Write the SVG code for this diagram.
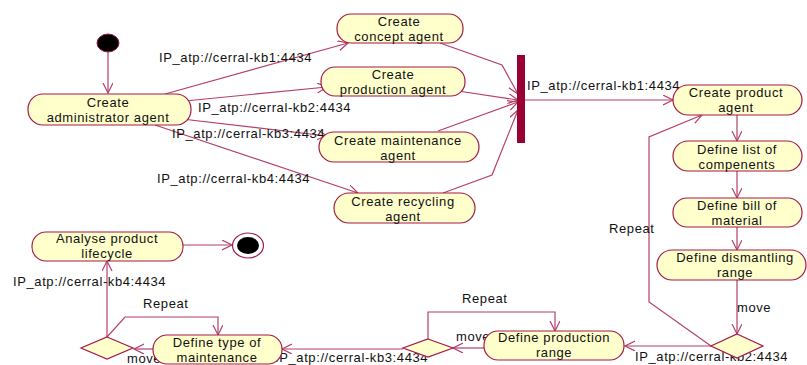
<svg xmlns="http://www.w3.org/2000/svg" width="807" height="365" viewBox="0 0 807 365">
<defs>
<style>
text{font-family:"Liberation Sans",Arial,sans-serif;font-size:13px;letter-spacing:0.6px;fill:#111}
.n rect{fill:#ffffcc;stroke:#a3194b;stroke-width:1.2}
.n text{text-anchor:middle}
.c path{fill:none;stroke:#b63e68;stroke-width:1.2}
.d{fill:#ffffcc;stroke:#a3194b;stroke-width:1.2}
</style>
<marker id="a" markerUnits="userSpaceOnUse" markerWidth="12" markerHeight="12" refX="10" refY="5" orient="auto">
<path d="M0,0 L10,5 L0,10" fill="none" stroke="#b63e68" stroke-width="1.2"/>
</marker>
</defs>
<rect width="807" height="365" fill="#fff"/>
<g id="connectors" class="c">
<path d="M108,52 L108,93" marker-end="url(#a)"/>
<path d="M165,94 L348,43" marker-end="url(#a)"/>
<path d="M185,101 L327,87" marker-end="url(#a)"/>
<path d="M182,119 L327,136" marker-end="url(#a)"/>
<path d="M155,125 L358,193" marker-end="url(#a)"/>
<path d="M440,43 L502,65 L518,94" marker-end="url(#a)"/>
<path d="M458,91 L518,100" marker-end="url(#a)"/>
<path d="M438,131 L518,102" marker-end="url(#a)"/>
<path d="M443,193 L492,175 L518,110" marker-end="url(#a)"/>
<path d="M525,100 L673,100" marker-end="url(#a)"/>
<path d="M737,115 L737,141" marker-end="url(#a)"/>
<path d="M737,171 L737,198" marker-end="url(#a)"/>
<path d="M737,227 L737,250" marker-end="url(#a)"/>
<path d="M737,280 L737,334" marker-end="url(#a)"/>
<path d="M711,346 L625,346" marker-end="url(#a)"/>
<path d="M711,346 L649,302 L649,137 L702,115" marker-end="url(#a)"/>
<path d="M484,348 L453,348" marker-end="url(#a)"/>
<path d="M428,339 L428,312 L555,312 L555,331" marker-end="url(#a)"/>
<path d="M403,349 L282,349" marker-end="url(#a)"/>
<path d="M153,349 L134,349" marker-end="url(#a)"/>
<path d="M107,337 L125,317 L218,317 L218,335" marker-end="url(#a)"/>
<path d="M107,337 L107,261" marker-end="url(#a)"/>
<path d="M183,245 L232,245" marker-end="url(#a)"/>
<text x="159" y="62">IP_atp://cerral-kb1:4434</text>
<text x="198" y="112">IP_atp://cerral-kb2:4434</text>
<text x="172" y="138">IP_atp://cerral-kb3:4434</text>
<text x="157" y="183">IP_atp://cerral-kb4:4434</text>
<text x="527" y="90">IP_atp://cerral-kb1:4434</text>
<text x="635" y="361">IP_atp://cerral-kb2:4434</text>
<text x="275" y="362">IP_atp://cerral-kb3:4434</text>
<text x="13" y="286">IP_atp://cerral-kb4:4434</text>
<text x="609" y="233">Repeat</text>
<text x="462" y="303">Repeat</text>
<text x="143" y="308">Repeat</text>
<text x="737" y="312">move</text>
<text x="456" y="341">move</text>
<text x="127" y="363">move</text>
</g>
<g id="start"><ellipse cx="108" cy="43" rx="11" ry="9" fill="#000" stroke="#a3194b"/></g>
<g id="end"><ellipse cx="248" cy="245.5" rx="15.5" ry="12.5" fill="#fff" stroke="#a3194b" stroke-width="1.2"/><ellipse cx="248" cy="245.5" rx="11" ry="8.5" fill="#000"/></g>
<g id="bar"><rect x="517" y="55" width="8" height="88" fill="#990033"/></g>
<g id="admin" class="n"><rect x="28" y="94" width="163" height="31" rx="15"/><text x="108" y="107">Create</text><text x="108" y="122">administrator agent</text></g>
<g id="concept" class="n"><rect x="337" y="14" width="126" height="29" rx="14"/><text x="399" y="26">Create</text><text x="399" y="41">concept agent</text></g>
<g id="production" class="n"><rect x="321" y="67" width="144" height="29" rx="14"/><text x="393" y="79">Create</text><text x="393" y="94">production agent</text></g>
<g id="maintenance" class="n"><rect x="319" y="132" width="160" height="30" rx="15"/><text x="398" y="145">Create maintenance</text><text x="398" y="160">agent</text></g>
<g id="recycling" class="n"><rect x="334" y="193" width="141" height="30" rx="15"/><text x="403" y="206">Create recycling</text><text x="403" y="221">agent</text></g>
<g id="product" class="n"><rect x="673" y="85" width="129" height="30" rx="15"/><text x="736" y="97">Create product</text><text x="736" y="112">agent</text></g>
<g id="list" class="n"><rect x="673" y="141" width="129" height="30" rx="15"/><text x="737" y="154">Define list of</text><text x="737" y="169">compenents</text></g>
<g id="bill" class="n"><rect x="673" y="198" width="129" height="29" rx="14"/><text x="737" y="210">Define bill of</text><text x="737" y="225">material</text></g>
<g id="dismantling" class="n"><rect x="657" y="250" width="149" height="30" rx="15"/><text x="735" y="262">Define dismantling</text><text x="735" y="277">range</text></g>
<g id="prodrange" class="n"><rect x="484" y="331" width="140" height="29" rx="14"/><text x="554" y="342">Define production</text><text x="554" y="357">range</text></g>
<g id="typemaint" class="n"><rect x="153" y="335" width="129" height="29" rx="14"/><text x="217" y="347">Define type of</text><text x="217" y="362">maintenance</text></g>
<g id="analyse" class="n"><rect x="32" y="232" width="151" height="29" rx="14"/><text x="107" y="243">Analyse product</text><text x="107" y="258">lifecycle</text></g>
<g id="d1"><polygon class="d" points="737,334 763,346 737,358 711,346"/></g>
<g id="d2"><polygon class="d" points="428,339 453,348 428,357 403,348"/></g>
<g id="d3"><polygon class="d" points="107,337 133,348 107,359 81,348"/></g>
</svg>
